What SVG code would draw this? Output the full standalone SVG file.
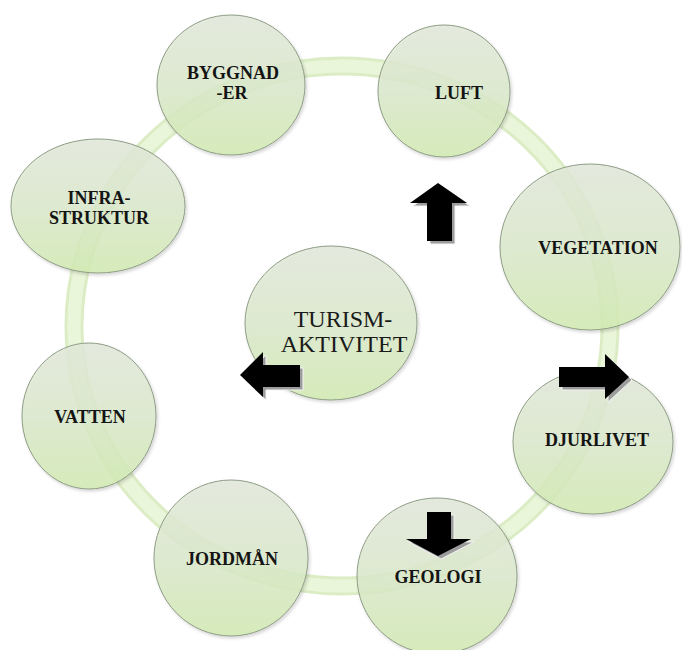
<svg xmlns="http://www.w3.org/2000/svg" width="682" height="650" viewBox="0 0 682 650">
<defs>
<linearGradient id="nodeFill" x1="0" y1="0" x2="0" y2="1">
<stop offset="0" stop-color="#e2e8da"/>
<stop offset="0.5" stop-color="#dbe9cc"/>
<stop offset="1" stop-color="#d2ebb2"/>
</linearGradient>
<filter id="soft" x="-10%" y="-10%" width="125%" height="125%">
<feDropShadow dx="1.5" dy="2" stdDeviation="1.5" flood-color="#000" flood-opacity="0.18"/>
</filter>
</defs>
<style>
.node{fill:url(#nodeFill);fill-opacity:0.85;stroke:#8d9c84;stroke-width:1;filter:url(#soft)}
.lbl{font-family:"Liberation Serif","DejaVu Serif",serif;font-weight:bold;font-size:18px;fill:#141414;text-anchor:middle}
.big{font-family:"Liberation Serif","DejaVu Serif",serif;font-size:24px;fill:#1a1a1a;text-anchor:middle}
.arrow{fill:#000}
.shadow{fill:#9c9c9c;stroke:#f4f4f4;stroke-width:1}
</style>
<rect width="682" height="650" fill="#fff"/>
<g id="ring">
<ellipse cx="342" cy="326" rx="268" ry="260" fill="none" stroke="#dcedc6" stroke-width="19"/>
<ellipse cx="342" cy="326" rx="268" ry="260" fill="none" stroke="#eaf6da" stroke-width="13"/>
</g>
<g id="node-byggnader"><ellipse class="node" cx="231" cy="85" rx="74" ry="70"/>
<text class="lbl" x="233" y="79">BYGGNAD</text><text class="lbl" x="232" y="99">-ER</text></g>
<g id="node-luft"><ellipse class="node" cx="444" cy="91" rx="66" ry="66"/>
<text class="lbl" x="459" y="99">LUFT</text></g>
<g id="node-vegetation"><ellipse class="node" cx="590" cy="247" rx="90" ry="83"/>
<text class="lbl" x="598" y="254">VEGETATION</text></g>
<g id="node-djurlivet"><ellipse class="node" cx="593" cy="442" rx="80" ry="72"/>
<text class="lbl" x="597" y="446">DJURLIVET</text></g>
<g id="node-geologi"><ellipse class="node" cx="437" cy="576" rx="80" ry="78"/>
<text class="lbl" x="438" y="583">GEOLOGI</text></g>
<g id="node-jordman"><ellipse class="node" cx="231" cy="558" rx="77" ry="78"/>
<text class="lbl" x="232" y="565">JORDMÅN</text></g>
<g id="node-vatten"><ellipse class="node" cx="89" cy="416" rx="67" ry="73"/>
<text class="lbl" x="90" y="423">VATTEN</text></g>
<g id="node-infrastruktur"><ellipse class="node" cx="98" cy="206" rx="87" ry="67"/>
<text class="lbl" x="99" y="204">INFRA-</text><text class="lbl" x="99" y="224">STRUKTUR</text></g>
<g id="node-turism"><ellipse class="node" cx="331" cy="323" rx="86" ry="77"/>
<text class="big" x="343" y="327">TURISM-</text><text class="big" x="344" y="352">AKTIVITET</text></g>
<g id="connectors">
<g transform="translate(3,3)">
<polygon class="shadow" points="438,183 467,203 452,203 452,241 427,241 427,203 410,203"/>
<polygon class="shadow" points="240,375 263,352 263,365 300,365 300,387 263,387 263,397"/>
<polygon class="shadow" points="629,377 605,354 605,367 559,367 559,387 605,387 605,399"/>
<polygon class="shadow" points="438,556 471,539 451,539 451,512 427,512 427,539 406,539"/>
</g>
<polygon class="arrow" points="438,183 467,203 452,203 452,241 427,241 427,203 410,203"/>
<polygon class="arrow" points="240,375 263,352 263,365 300,365 300,387 263,387 263,397"/>
<polygon class="arrow" points="629,377 605,354 605,367 559,367 559,387 605,387 605,399"/>
<polygon class="arrow" points="438,556 471,539 451,539 451,512 427,512 427,539 406,539"/>
</g>
</svg>
